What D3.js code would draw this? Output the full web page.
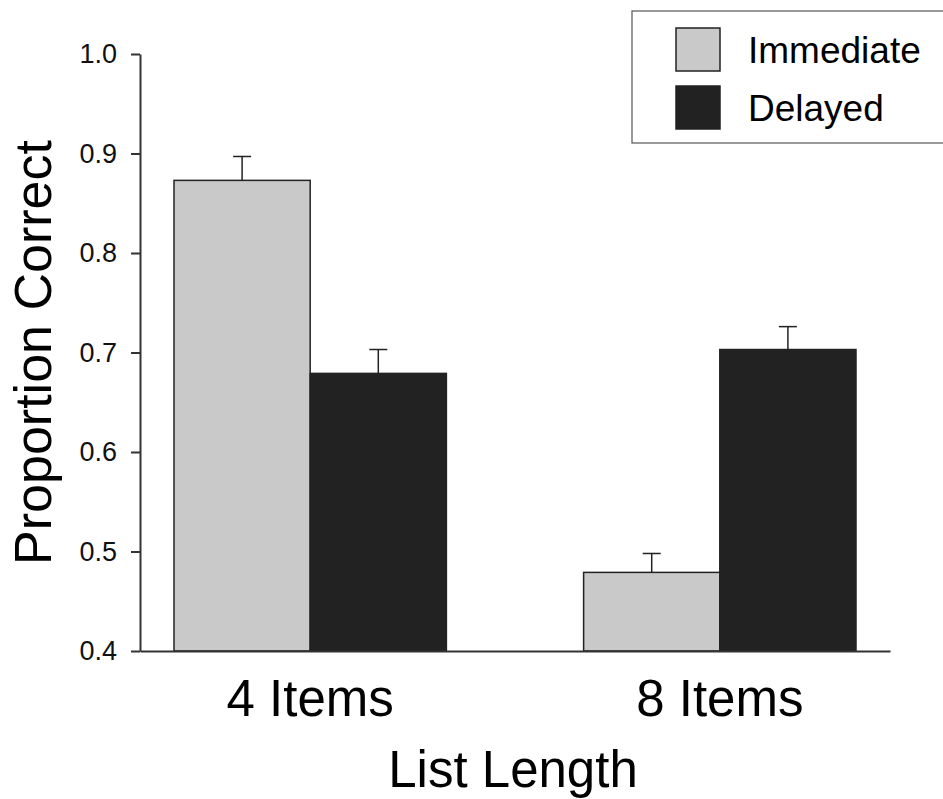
<!DOCTYPE html>
<html lang="en">
	<head>
		<meta charset="utf-8">
		<title>Proportion correct by list length</title>
		<script type="text/javascript" src="https://cdn.jsdelivr.net/npm/d3@7"></script>
		<style type="text/css">
			body { margin: 0; background: #fff; }
			svg { display: block; font-family: "Liberation Sans", Arial, sans-serif; }
		</style>
	</head>
	<body>
		<script type="text/javascript">

			//Width and height
			var w = 943;
			var h = 799;

			//Data
			var categories = ["4 Items", "8 Items"];
			var series = ["Immediate", "Delayed"];
			var immediate = [0.873, 0.479];
			var delayed = [0.679, 0.703];
			var immediateErr = [0.024, 0.019];
			var delayedErr = [0.024, 0.023];
			var yTicks = [0.4, 0.5, 0.6, 0.7, 0.8, 0.9, 1.0];

			var colors = { "Immediate": "#c9c9c9", "Delayed": "#222222" };

			var rows = [];
			categories.forEach(function(c, i) {
				rows.push({ cat: c, s: "Immediate", v: immediate[i], e: immediateErr[i] });
				rows.push({ cat: c, s: "Delayed", v: delayed[i], e: delayedErr[i] });
			});

			var plot = { left: 140, right: 890, top: 54, bottom: 651 };

			var xScale = d3.scaleBand()
							.domain(categories)
							.range([plot.left, plot.right])
							.paddingInner(0.335)
							.paddingOuter(0.083);

			var xSub = d3.scaleBand()
							.domain(series)
							.range([0, xScale.bandwidth()])
							.padding(0);

			var yScale = d3.scaleLinear()
							.domain([0.4, 1.0])
							.range([plot.bottom, plot.top]);

			//Create SVG element
			var svg = d3.select("body")
						.append("svg")
						.attr("width", w)
						.attr("height", h);

			//Bars
			svg.selectAll("rect.bar")
			   .data(rows)
			   .enter()
			   .append("rect")
			   .attr("class", "bar")
			   .attr("x", function(d) { return xScale(d.cat) + xSub(d.s); })
			   .attr("y", function(d) { return yScale(d.v); })
			   .attr("width", xSub.bandwidth())
			   .attr("height", function(d) { return yScale(0.4) - yScale(d.v); })
			   .attr("fill", function(d) { return colors[d.s]; })
			   .attr("stroke", "#222")
			   .attr("stroke-width", 1.5);

			//Error bars (upper only)
			var err = svg.selectAll("g.err")
			   .data(rows)
			   .enter()
			   .append("g")
			   .attr("class", "err")
			   .attr("stroke", "#222")
			   .attr("stroke-width", 1.5);

			err.append("line")
			   .attr("x1", function(d) { return xScale(d.cat) + xSub(d.s) + xSub.bandwidth() / 2; })
			   .attr("x2", function(d) { return xScale(d.cat) + xSub(d.s) + xSub.bandwidth() / 2; })
			   .attr("y1", function(d) { return yScale(d.v); })
			   .attr("y2", function(d) { return yScale(d.v + d.e); });

			err.append("line")
			   .attr("x1", function(d) { return xScale(d.cat) + xSub(d.s) + xSub.bandwidth() / 2 - 9; })
			   .attr("x2", function(d) { return xScale(d.cat) + xSub(d.s) + xSub.bandwidth() / 2 + 9; })
			   .attr("y1", function(d) { return yScale(d.v + d.e); })
			   .attr("y2", function(d) { return yScale(d.v + d.e); });

			//Y axis
			var yAxis = d3.axisLeft(yScale)
							.tickValues(yTicks)
							.tickFormat(d3.format(".1f"))
							.tickSize(9)
							.tickSizeOuter(0)
							.tickPadding(14);

			var gy = svg.append("g")
			   .attr("transform", "translate(" + plot.left + ",0)")
			   .call(yAxis);
			gy.select(".domain").attr("stroke", "#333").attr("stroke-width", 2);
			gy.selectAll(".tick line").attr("stroke", "#333").attr("stroke-width", 2);
			gy.selectAll(".tick text")
			   .attr("fill", "#111")
			   .style("font-size", "27px")
			   .style("font-family", "'Liberation Sans', Arial, sans-serif");

			//X axis baseline
			var xAxis = d3.axisBottom(xScale).tickSize(0).tickPadding(29);
			var gx = svg.append("g")
			   .attr("transform", "translate(0," + plot.bottom + ")")
			   .call(xAxis);
			gx.select(".domain").attr("stroke", "#333").attr("stroke-width", 2);
			gx.selectAll(".tick text")
			   .attr("fill", "#000")
			   .attr("dy", "0.71em")
			   .style("font-size", "51px")
			   .style("font-family", "'Liberation Sans', Arial, sans-serif");

			//Axis titles
			svg.append("text")
			   .attr("x", (plot.left + plot.right) / 2 - 2)
			   .attr("y", 787)
			   .attr("text-anchor", "middle")
			   .attr("font-size", "51px")
			   .attr("fill", "#000")
			   .text("List Length");

			svg.append("text")
			   .attr("transform", "translate(51," + (plot.top + plot.bottom) / 2 + ") rotate(-90)")
			   .attr("text-anchor", "middle")
			   .attr("font-size", "52px")
			   .attr("fill", "#000")
			   .text("Proportion Correct");

			//Legend
			var legend = svg.append("g");
			legend.append("rect")
			   .attr("x", 632)
			   .attr("y", 11)
			   .attr("width", 320)
			   .attr("height", 132)
			   .attr("fill", "#fff")
			   .attr("stroke", "#555")
			   .attr("stroke-width", 1.2);

			var items = legend.selectAll("g.item")
			   .data(series)
			   .enter()
			   .append("g")
			   .attr("class", "item")
			   .attr("transform", function(d, i) { return "translate(676," + (28 + i * 58) + ")"; });

			items.append("rect")
			   .attr("width", 44)
			   .attr("height", 43)
			   .attr("fill", function(d) { return colors[d]; })
			   .attr("stroke", "#222")
			   .attr("stroke-width", 1.5);

			items.append("text")
			   .attr("x", 72)
			   .attr("y", 35)
			   .attr("font-size", "37px")
			   .attr("fill", "#000")
			   .text(function(d) { return d; });

		</script>
	</body>
</html>
